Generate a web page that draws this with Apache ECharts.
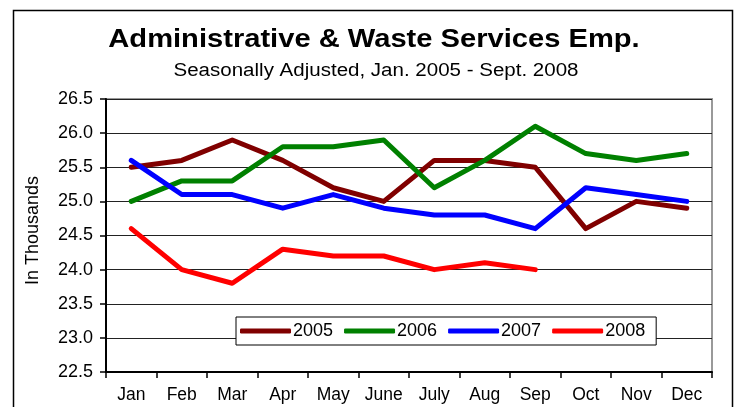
<!DOCTYPE html>
<html>
<head>
<meta charset="utf-8">
<script src="https://cdn.jsdelivr.net/npm/echarts@6/dist/echarts.min.js"></script>
<style>
  html, body { margin: 0; padding: 0; background: #fff; }
  #chart { width: 737px; height: 407px; }
</style>
</head>
<body>
<div id="chart"></div>
<script>
// Monthly categories and employment (in thousands) per year
const months = ['Jan', 'Feb', 'Mar', 'Apr', 'May', 'June', 'July', 'Aug', 'Sep', 'Oct', 'Nov', 'Dec'];
const y2005 = [25.5, 25.6, 25.9, 25.6, 25.2, 25.0, 25.6, 25.6, 25.5, 24.6, 25.0, 24.9];
const y2006 = [25.0, 25.3, 25.3, 25.8, 25.8, 25.9, 25.2, 25.6, 26.1, 25.7, 25.6, 25.7];
const y2007 = [25.6, 25.1, 25.1, 24.9, 25.1, 24.9, 24.8, 24.8, 24.6, 25.2, 25.1, 25.0];
const y2008 = [24.6, 24.0, 23.8, 24.3, 24.2, 24.2, 24.0, 24.1, 24.0];
const seriesNames = ['2005', '2006', '2007', '2008'];
const seriesColors = ['#800000', '#008000', '#0000FF', '#FF0000'];

const titleText = 'Administrative & Waste Services Emp.';
const subtitleText = 'Seasonally Adjusted, Jan. 2005 - Sept. 2008';
const yAxisTitle = 'In Thousands';

const FONT = '"Liberation Sans", Arial, sans-serif';
const chart = echarts.init(document.getElementById('chart'), null, { renderer: 'canvas' });

const seriesData = [y2005, y2006, y2007, y2008];

chart.setOption({
  animation: false,
  backgroundColor: '#fff',
  graphic: [
    {
      // outer frame
      type: 'rect', silent: true, z: -1,
      shape: { x: 13.5, y: 10.5, width: 719, height: 420 },
      style: { fill: 'none', stroke: '#000', lineWidth: 1.5 }
    },
    {
      type: 'text', silent: true,
      x: 374, y: 40, scaleX: 1.12,
      style: {
        text: titleText, fill: '#000',
        font: 'bold 26px ' + FONT,
        align: 'center', verticalAlign: 'middle'
      }
    },
    {
      type: 'text', silent: true,
      x: 376, y: 71, scaleX: 1.14,
      style: {
        text: subtitleText, fill: '#000',
        font: '18px ' + FONT,
        align: 'center', verticalAlign: 'middle'
      }
    },
    {
      type: 'text', silent: true,
      x: 33, y: 230.5, rotation: Math.PI / 2,
      style: {
        text: yAxisTitle, fill: '#000',
        font: '18px ' + FONT,
        align: 'center', verticalAlign: 'middle'
      }
    }
  ],
  legend: {
    data: seriesNames,
    left: 236, top: 317,
    orient: 'horizontal',
    padding: [5, 11, 5, 4],
    itemGap: 11,
    itemWidth: 51, itemHeight: 5,
    icon: 'roundRect',
    borderColor: '#000', borderWidth: 1,
    backgroundColor: '#fff',
    textStyle: { fontFamily: FONT, fontSize: 18, color: '#000', padding: [0, 0, 0, -3] }
  },
  grid: {
    left: 106, right: 25, top: 99, bottom: 35,
    show: true, borderColor: '#999', borderWidth: 2, backgroundColor: '#fff'
  },
  xAxis: {
    type: 'category',
    data: months,
    boundaryGap: true,
    axisLine: { lineStyle: { color: '#000', width: 2 } },
    axisTick: { show: true, length: 6, lineStyle: { color: '#000', width: 1.5 } },
    axisLabel: { fontFamily: FONT, fontSize: 17.5, color: '#000', margin: 14 },
    splitLine: { show: false }
  },
  yAxis: {
    type: 'value',
    min: 22.5, max: 26.5, interval: 0.5,
    axisLine: { show: true, lineStyle: { color: '#000', width: 2 } },
    axisTick: { show: true, length: 6, lineStyle: { color: '#000', width: 1.5 } },
    axisLabel: {
      fontFamily: FONT, fontSize: 18, color: '#000', margin: 13,
      formatter: v => v.toFixed(1)
    },
    splitLine: { show: true, lineStyle: { color: '#222', width: 1 } }
  },
  series: seriesNames.map((name, i) => ({
    name: name,
    type: 'line',
    data: seriesData[i],
    color: seriesColors[i],
    symbol: 'none',
    lineStyle: { width: 5, color: seriesColors[i], cap: 'round', join: 'round' },
    z: 3 + i
  }))
});
</script>
</body>
</html>
